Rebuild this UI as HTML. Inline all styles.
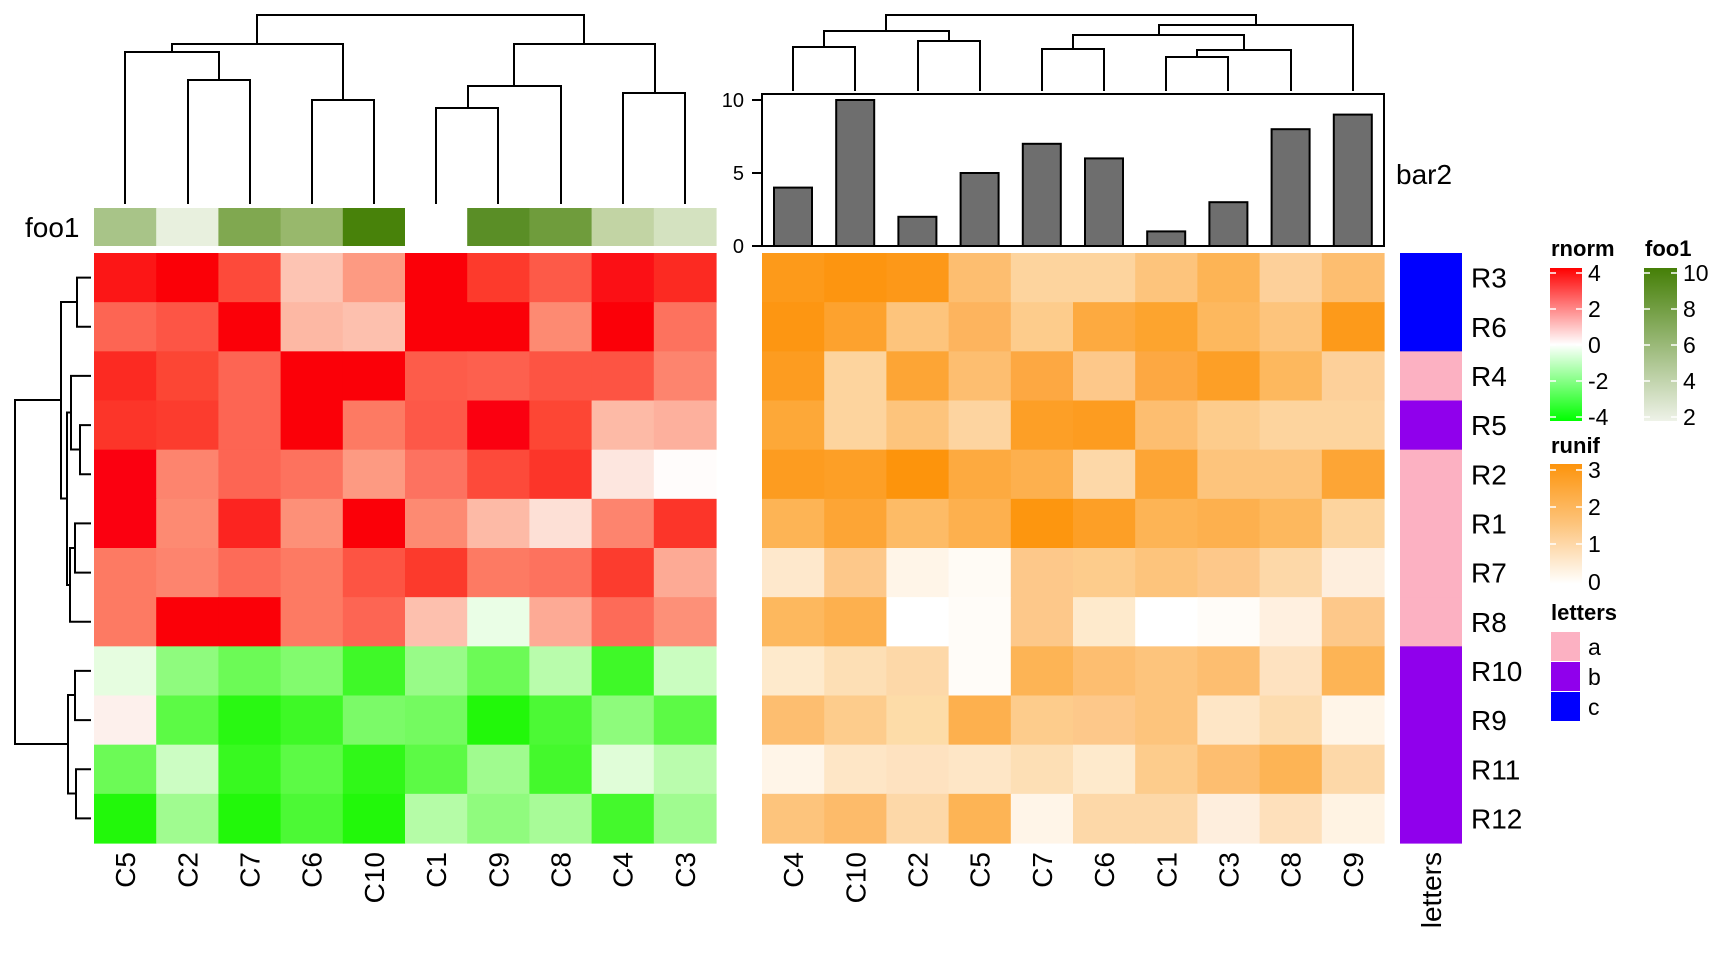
<!DOCTYPE html>
<html><head><meta charset="utf-8"><style>
html,body{margin:0;padding:0;background:#fff;}
svg{display:block;font-family:"Liberation Sans",Arial,sans-serif;}
</style></head><body>
<svg id="s" width="1728" height="960" viewBox="0 0 1728 960" xmlns="http://www.w3.org/2000/svg">
<defs>
<linearGradient id="gr" x1="0" y1="0" x2="0" y2="1"><stop offset="0" stop-color="#ff0000"/><stop offset="0.5" stop-color="#ffffff"/><stop offset="1" stop-color="#00ff00"/></linearGradient>
<linearGradient id="gf" x1="0" y1="0" x2="0" y2="1"><stop offset="0" stop-color="#457f07"/><stop offset="1" stop-color="#eef2e8"/></linearGradient>
<linearGradient id="go" x1="0" y1="0" x2="0" y2="1"><stop offset="0" stop-color="#fd940c"/><stop offset="0.5" stop-color="#fdc47c"/><stop offset="1" stop-color="#ffffff"/></linearGradient>
</defs>
<g id="cells"></g>
<g id="lines" stroke="#000" stroke-width="2" fill="none"></g>
<rect x="762" y="94" width="622" height="152" fill="none" stroke="#000" stroke-width="2"/>
<g font-size="20" text-anchor="end" fill="#000">
<text x="744" y="107">10</text><text x="744" y="180">5</text><text x="744" y="253">0</text>
</g>
<g stroke="#000" stroke-width="2"><line x1="752" y1="100" x2="762" y2="100"/><line x1="752" y1="173" x2="762" y2="173"/><line x1="752" y1="246" x2="762" y2="246"/></g>
<text x="1396" y="184" font-size="28">bar2</text>
<text x="25" y="237" font-size="28">foo1</text>
<g id="lab" font-size="28" fill="#000"></g>
<g font-weight="bold" font-size="22">
<text x="1551" y="256">rnorm</text><text x="1645" y="256">foo1</text>
<text x="1551" y="453">runif</text><text x="1551" y="620">letters</text>
</g>
<rect x="1550" y="268" width="32" height="153" fill="url(#gr)"/>
<rect x="1644" y="268" width="33" height="153" fill="url(#gf)"/>
<rect x="1550" y="464" width="32" height="120" fill="url(#go)"/>
<g stroke="#fff" stroke-width="1.5">
<path d="M1550 273h6M1576 273h6M1550 309h6M1576 309h6M1550 345h6M1576 345h6M1550 381h6M1576 381h6M1550 417h6M1576 417h6"/>
<path d="M1644 273h6M1671 273h6M1644 309h6M1671 309h6M1644 345h6M1671 345h6M1644 381h6M1671 381h6M1644 417h6M1671 417h6"/>
<path d="M1550 470h6M1576 470h6M1550 507h6M1576 507h6M1550 544h6M1576 544h6"/>
</g>
<g font-size="23">
<text x="1588" y="281">4</text><text x="1588" y="317">2</text><text x="1588" y="353">0</text><text x="1588" y="389">-2</text><text x="1588" y="425">-4</text>
<text x="1683" y="281">10</text><text x="1683" y="317">8</text><text x="1683" y="353">6</text><text x="1683" y="389">4</text><text x="1683" y="425">2</text>
<text x="1588" y="478">3</text><text x="1588" y="515">2</text><text x="1588" y="552">1</text><text x="1588" y="590">0</text>
<text x="1588" y="655">a</text><text x="1588" y="685">b</text><text x="1588" y="715">c</text>
</g>
<rect x="1551" y="632" width="29" height="29" fill="#fcb1c2"/>
<rect x="1551" y="662" width="29" height="29" fill="#9000ec"/>
<rect x="1551" y="692" width="29" height="29" fill="#0000ff"/>
</svg>
<script>
var NS="http://www.w3.org/2000/svg";
function el(p,t,a,txt){var e=document.createElementNS(NS,t);for(var k in a)e.setAttribute(k,a[k]);if(txt!=null)e.textContent=txt;document.getElementById(p).appendChild(e);return e;}
var L=[
["#fc1616","#fb0007","#fd4a3a","#fdc4b3","#fd9a82","#fb0008","#fd3a2c","#fd5a48","#fb1015","#fc2a22"],
["#fd6553","#fd5545","#fb0008","#fdb8a4","#fdc0ae","#fb0008","#fb0008","#fd8a72","#fb0008","#fd725e"],
["#fc2a22","#fc4634","#fd6553","#fb0008","#fb0008","#fd5c4a","#fd604e","#fd5443","#fd5443","#fd846e"],
["#fc3529","#fc3c2e","#fd6553","#fb0008","#fd7a63","#fd5848","#fb0010","#fd4634","#fdbaa6","#fdb09d"],
["#fb0010","#fd846e","#fd6553","#fd725e","#fd9a82","#fd7260","#fd4a3a","#fc3529","#fde6df","#fffcfb"],
["#fb0010","#fd8a72","#fc2420","#fd9078","#fb0008","#fd8a72","#fdbaa6","#fde0d6","#fd846e","#fc3529"],
["#fd7a63","#fd846e","#fd6b58","#fd7a63","#fd5443","#fc3a2c","#fd7a63","#fd725e","#fc3c2e","#fdaa95"],
["#fd7a63","#fb0008","#fb0008","#fd7a63","#fd6553","#fdc0ae","#eafee6","#fdaa95","#fd6b58","#fd9078"],
["#e6fde0","#8ffb7e","#6cfa56","#82fb6e","#3ff928","#98fb88","#6cfa56","#b9fcac","#3ff928","#cafdc0"],
["#fdf0ec","#5cfa45","#29f812","#3ef926","#7bfa68","#74fa60","#22f80a","#4cf935","#8efb7c","#5cfa45"],
["#6cfa56","#ccfdc3","#38f920","#5cfa45","#30f818","#5cfa45","#a0fb8f","#44f92c","#e0fdd8","#bafcad"],
["#22f80a","#a0fb90","#22f80a","#4cf935","#22f80a","#b5fca7","#90fb7e","#a8fb98","#44f92c","#a0fb90"]];
var R=[
["#fd9a1a","#fd9510","#fd9818","#fdbe70","#fdd49e","#fdd49e","#fdc47c","#fdb455","#fdd09a","#fdbe70"],
["#fd9612","#fda22e","#fdc47c","#fdb45e","#fdcc8c","#fdaa40","#fda42e","#fdb85e","#fdc47c","#fd9a1a"],
["#fd9c20","#fdd49e","#fda535","#fdbe70","#fda842","#fdc88a","#fda842","#fd9f26","#fdb85e","#fdd09a"],
["#fda838","#fdd49e","#fdc47c","#fdd4a0","#fd9f26","#fd9c20","#fdbe70","#fdcc8c","#fdd49e","#fdd49e"],
["#fd9c20","#fd9f26","#fd940c","#fdaa40","#fdb04e","#fdd8a8","#fda535","#fdc47c","#fdc47c","#fda535"],
["#fdb455","#fda535","#fdbb66","#fdb04e","#fd960f","#fd9f26","#fdb455","#fdb04e","#fdb85e","#fdd49e"],
["#fee8cc","#fdc88a","#fff5e8","#fffbf5","#fdc88a","#fdcc8c","#fdc47c","#fdc88a","#fdd8a8","#feeedd"],
["#fdb85e","#fdb04e","#ffffff","#fffcf8","#fdc88a","#feeacc","#ffffff","#fffcf8","#fff0e0","#fdc88a"],
["#feeacc","#fddfb5","#fdd8a8","#fffcf8","#fdb455","#fdbe70","#fdc47c","#fdbe70","#fee2c0","#fdb455"],
["#fdbe70","#fdcc8c","#fddca8","#fdb04e","#fdcc8c","#fdc88a","#fdc47c","#fee6c6","#fddcaf","#fff5e8"],
["#fff5e8","#fee6c6","#fee2c0","#fee6c6","#fddfb5","#feeacc","#fdcc8c","#fdbe70","#fdb455","#fdd8a8"],
["#fdc47c","#fdbb6a","#fdd8a8","#fdb455","#fff5e8","#fdd8a8","#fdd8a8","#feeedd","#fee0bb","#fff3e3"]];
var F=["#a8c488","#e8f0de","#80a850","#98b86c","#48820a","#ffffff","#5a8e26","#6f9c3c","#c2d4a4","#d4e2c0"];
var LET=["#0000ff","#0000ff","#fcb1c2","#9000ec","#fcb1c2","#fcb1c2","#fcb1c2","#fcb1c2","#9000ec","#9000ec","#9000ec","#9000ec"];
var rows=["R3","R6","R4","R5","R2","R1","R7","R8","R10","R9","R11","R12"];
var lc=["C5","C2","C7","C6","C10","C1","C9","C8","C4","C3"];
var rc=["C4","C10","C2","C5","C7","C6","C1","C3","C8","C9"];
var bars=[4,10,2,5,7,6,1,3,8,9];
var T0=253,rh=590/12,cw=62.2,lx=94,rx=762;
for(var i=0;i<12;i++){var y=T0+i*rh;
 for(var j=0;j<10;j++){
  el("cells","rect",{x:lx+j*cw,y:y,width:cw+0.6,height:rh+0.6,fill:L[i][j]});
  el("cells","rect",{x:rx+j*cw,y:y,width:cw+0.6,height:rh+0.6,fill:R[i][j]});
 }
 el("cells","rect",{x:1400,y:y,width:62,height:rh+0.6,fill:LET[i]});
 el("lab","text",{x:1471,y:y+rh/2+10},rows[i]);
}
for(var j=0;j<10;j++){
 el("cells","rect",{x:lx+j*cw,y:208,width:cw+0.6,height:38,fill:F[j]});
 var bh=bars[j]*14.6;
 el("cells","rect",{x:rx+j*cw+12,y:246-bh,width:38,height:bh,fill:"#6e6e6e",stroke:"#000","stroke-width":2});
 var cx=lx+j*cw+cw/2+10; el("lab","text",{x:cx,y:852,transform:"rotate(-90 "+cx+" 852)","text-anchor":"end"},lc[j]);
 cx=rx+j*cw+cw/2+10; el("lab","text",{x:cx,y:852,transform:"rotate(-90 "+cx+" 852)","text-anchor":"end"},rc[j]);
}
el("lab","text",{x:1441,y:852,transform:"rotate(-90 1441 852)","text-anchor":"end"},"letters");
function P(d){el("lines","path",{d:d});}
function cn(x1,y1,x2,y2,h){P("M"+x1+" "+y1+"V"+h+"H"+x2+"V"+y2);}
var lb=204;
cn(188,lb,250,lb,80);cn(125,lb,219,80,52);cn(312,lb,374,lb,100);cn(172,52,343,100,44);
cn(436,lb,498,lb,108);cn(468,108,561,lb,86);cn(623,lb,685,lb,93);cn(514,86,655,93,44);cn(257,44,584,44,15);
var rb=91;
cn(793,rb,855,rb,47);cn(918,rb,980,rb,41);cn(824,47,949,41,31);
cn(1042,rb,1104,rb,49);cn(1166,rb,1228,rb,57);cn(1197,57,1291,rb,50);cn(1073,49,1244,50,35);cn(1159,35,1353,rb,25);cn(886,31,1256,25,15);
function rn(y1,x1,y2,x2,h){P("M"+x1+" "+y1+"H"+h+"V"+y2+"H"+x2);}
function rcn(i){return T0+rh*(i+0.5);}
var lf=91;
rn(rcn(0),lf,rcn(1),lf,77);
rn(rcn(3),lf,rcn(4),lf,80);rn(rcn(2),lf,449.5,80,71);
rn(rcn(5),lf,rcn(6),lf,75);rn(548,75,rcn(7),lf,70);
rn(412.5,71,585,70,67);rn(302,77,498.5,67,61);
rn(rcn(8),lf,rcn(9),lf,75);rn(rcn(10),lf,rcn(11),lf,76);rn(695,75,793.5,76,68);
rn(400,61,744,68,15);
</script>
</body></html>
